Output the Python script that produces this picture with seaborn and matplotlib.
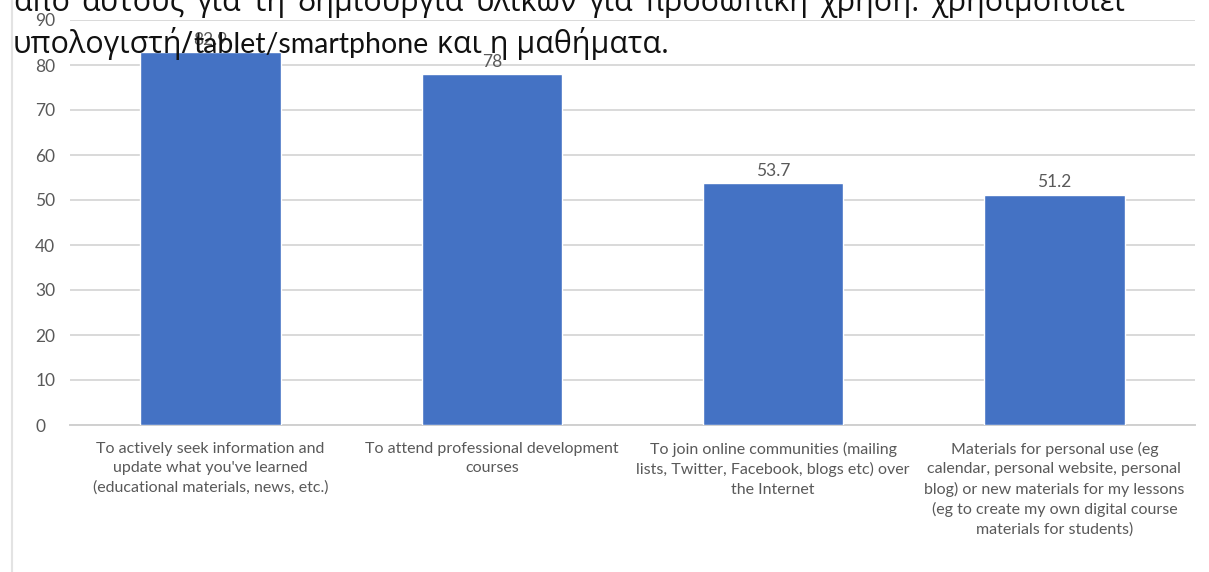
import matplotlib
matplotlib.use("Agg")
import matplotlib.pyplot as plt
import seaborn as sns
import pandas as pd
from matplotlib.lines import Line2D

categories = [
    "To actively seek information and\nupdate what you've learned\n(educational materials, news, etc.)",
    "To attend professional development\ncourses",
    "To join online communities (mailing\nlists, Twitter, Facebook, blogs etc) over\nthe Internet",
    "Materials for personal use (eg\ncalendar, personal website, personal\nblog) or new materials for my lessons\n(eg to create my own digital course\nmaterials for students)",
]
values = [82.9, 78, 53.7, 51.2]
y_ticks = [0, 10, 20, 30, 40, 50, 60, 70, 80, 90]

caption_line1 = "από αυτούς για τη δημιουργία υλικών για προσωπική χρήση. χρησιμοποιεί"
caption_line2 = ["υπολογιστή/", "tablet/smartphone", " και η μαθήματα."]

sns.set_style("white")
plt.rcParams["font.family"] = ["Lato", "DejaVu Sans"]

W, H = 1209, 572
fig = plt.figure(figsize=(W / 100, H / 100), dpi=100)
ax = fig.add_axes([70 / W, 1 - 425 / H, (1195 - 70) / W, (425 - 20) / H])

df = pd.DataFrame({"category": categories, "value": values})
sns.barplot(data=df, x="category", y="value", color="#4472C4", width=0.5,
            saturation=1, ax=ax, zorder=3)

ax.set_ylim(0, 90)
ax.set_xlim(-0.5, len(categories) - 0.5)
ax.set_yticks(y_ticks)
ax.set_yticklabels([str(t) for t in y_ticks], color="#595959", fontsize=12.5,
                   ha="left")
ax.yaxis.grid(True, color="#d9d9d9", linewidth=1.4, zorder=0)
ax.set_axisbelow(True)
ax.tick_params(axis="y", length=0, pad=25)

ax.set_xticks(range(len(categories)))
ax.set_xticklabels(categories, color="#595959", fontsize=11.5, linespacing=1.47)
ax.tick_params(axis="x", which="major", length=0, pad=12)
ax.set_xticks([i - 0.5 for i in range(len(categories) + 1)], minor=True)
ax.tick_params(axis="x", which="minor", length=14, width=1.2, color="#d9d9d9",
               direction="out")

for s in ["top", "right", "left"]:
    ax.spines[s].set_visible(False)
ax.spines["bottom"].set_color("#d0d0d0")
ax.spines["bottom"].set_linewidth(1.4)
ax.set_xlabel("")
ax.set_ylabel("")

for i, v in enumerate(values):
    ax.annotate(f"{v:g}", (i, v), xytext=(0, 3), textcoords="offset points",
                ha="center", va="bottom", color="#595959", fontsize=12.5, zorder=4)

# left frame line of the figure
fig.add_artist(Line2D([12 / W, 12 / W], [0, 1], color="#e3e3e3", linewidth=1.5))

# caption text running over the top of the chart
greek = dict(family=["Open Sans", "DejaVu Sans"], fontsize=22)
latin = dict(family=["Lato", "DejaVu Sans"], fontsize=20.5)
cap_style = dict(color="#111111", ha="left", va="baseline", zorder=10)
renderer = fig.canvas.get_renderer()


def width_px(t):
    return t.get_window_extent(renderer).width


# first line: justified between the left margin and its right end
x0, x1 = 13, 1125
words = caption_line1.split(" ")
word_texts = [fig.text(0, 1 - 11 / H, w, **greek, **cap_style) for w in words]
widths = [width_px(t) for t in word_texts]
gap = (x1 - x0 - sum(widths)) / (len(words) - 1)
x = x0
for t, w in zip(word_texts, widths):
    t.set_x(x / W)
    x += w + gap

# second line: Greek and Latin runs set one after another
x = 13
for run in caption_line2:
    style = latin if run.isascii() else greek
    t = fig.text(x / W, 1 - 53 / H, run, **style, **cap_style)
    x += width_px(t)

fig.savefig("out.png", dpi=100)
